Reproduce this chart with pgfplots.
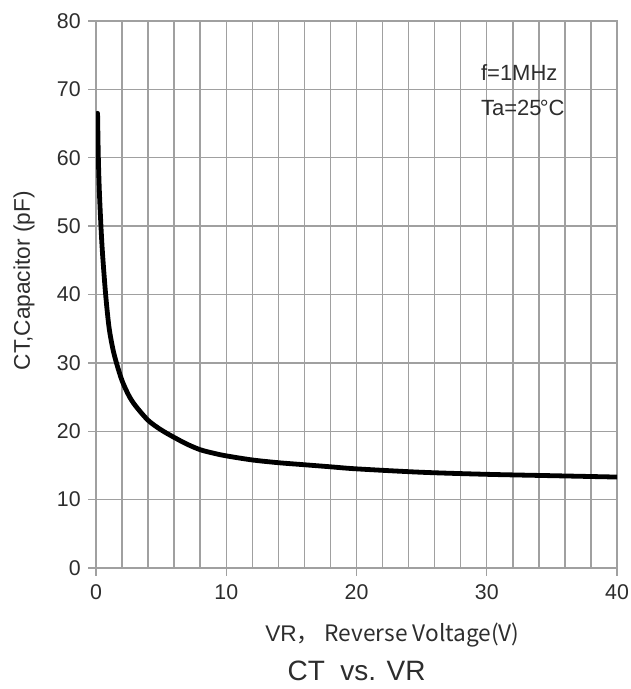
\documentclass[border=0pt]{standalone}
\usepackage{fontspec}
\setmainfont{Liberation Sans}
\newfontfamily\cjk{Noto Sans CJK SC}
\usepackage{pgfplots}
\pgfplotsset{compat=1.18}
\usetikzlibrary{calc}
\definecolor{gridgray}{RGB}{160,160,160}
\definecolor{txt}{RGB}{45,45,45}

\begin{document}
\begin{tikzpicture}
\begin{axis}[
  scale only axis,
  width=390.75pt, height=410.25pt,
  xmin=0, xmax=40, ymin=0, ymax=80,
  xtick={0,10,...,40}, ytick={0,10,...,80},
  minor x tick num=4,
  grid=both,
  major grid style={gridgray, line width=1.1pt},
  minor grid style={gridgray, line width=1.1pt},
  axis line style={gridgray, line width=1.1pt},
  tick align=outside,
  xtick pos=bottom, ytick pos=left,
  major tick length=6pt, minor tick length=0pt,
  tick style={gridgray, line width=1.1pt},
  /pgf/number format/assume math mode=true,
  ticklabel style={font=\fontsize{16}{19}\selectfont, text=txt},
  yticklabel style={xshift=-2pt},
  xticklabel style={yshift=-3pt},
  xlabel={VR\cjk{，} Reverse Voltage(V)},
  ylabel={CT,Capacitor (pF)},
  every axis x label/.style={at={(axis description cs:0.569,-0.1347)}, anchor=base,
    font=\fontsize{17}{20}\selectfont, text=txt},
  every axis y label/.style={at={(axis description cs:-0.138,0.525)}, anchor=center, rotate=90,
    font=\fontsize{17}{20}\selectfont, text=txt},
  title={CT\ \ vs. VR},
  every axis title/.style={at={(axis description cs:0.5,-0.206)}, anchor=base,
    font=\fontsize{21}{25}\selectfont, text=txt},
]
\addplot[black, line width=3.6pt, smooth, line cap=round] coordinates {
  (0.12,66.5)(0.18,60)(0.26,55)(0.38,50)(0.5,46)(0.74,40)(1.0,35.2)
  (1.3,32)(1.6,29.8)(2,27.4)(2.5,25.3)(3,23.8)(4,21.6)(5,20.2)
  (6,19.1)(7,18.1)(8,17.3)(9,16.8)(10,16.4)(12,15.8)(14,15.4)
  (16,15.1)(18,14.8)(20,14.5)(25,14.0)(30,13.7)(35,13.5)(40,13.3)
};
\node[anchor=base west, font=\fontsize{16.5}{20}\selectfont, text=txt]
  at (axis cs:29.2,71.3) {f=1MHz};
\node[anchor=base west, font=\fontsize{16.5}{20}\selectfont, text=txt]
  at (axis cs:29.2,66.2) {Ta=25\kern-0.08em°C};
\end{axis}
\pgfresetboundingbox
\path ($(current axis.south west)+(-72pt,-90.75pt)$) rectangle ($(current axis.north east)+(9.75pt,15.75pt)$);
\end{tikzpicture}
\end{document}
